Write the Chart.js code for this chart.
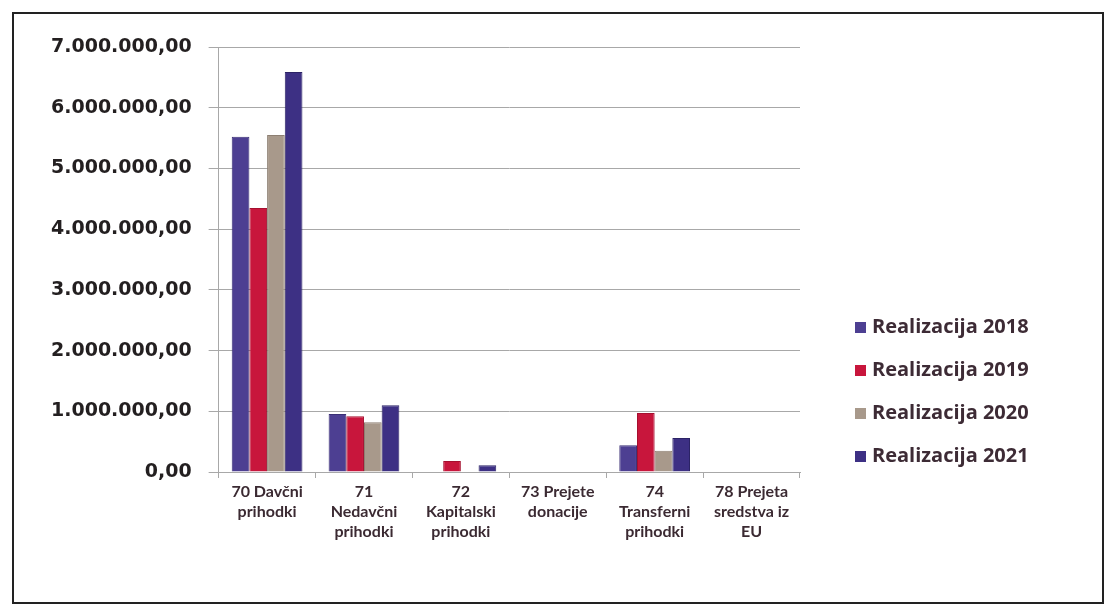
<!DOCTYPE html>
<html>
<head>
<meta charset="utf-8">
<script src="https://cdn.jsdelivr.net/npm/chart.js@4/dist/chart.umd.min.js"></script>
<style>
  html, body { margin: 0; padding: 0; background: #fff; }
  #wrap { position: relative; width: 1110px; height: 609px; }
  #frame { position: absolute; left: 12px; top: 12px; width: 1092px; height: 592px;
           border: 2px solid #222; box-sizing: border-box; pointer-events: none; }
  #legend { position: absolute; left: 855px; top: 313px; font-family: "Open Sans", sans-serif;
            font-weight: 700; font-size: 20px; color: #3d2b35; }
  #legend div { height: 43px; line-height: 26px; white-space: nowrap; }
  #legend span { display: inline-block; width: 11px; height: 11px; margin-right: 6px;
                 vertical-align: 0px; }
</style>
</head>
<body>
<div id="wrap">
  <canvas id="myChart" width="1110" height="609"></canvas>
  <div id="frame"></div>
  <div id="legend"></div>
</div>
<script>
const categories = [
  ["70 Davčni", "prihodki"],
  ["71", "Nedavčni", "prihodki"],
  ["72", "Kapitalski", "prihodki"],
  ["73 Prejete", "donacije"],
  ["74", "Transferni", "prihodki"],
  ["78 Prejeta", "sredstva iz", "EU"]
];
const seriesNames = ["Realizacija 2018", "Realizacija 2019", "Realizacija 2020", "Realizacija 2021"];
const real2018 = [5520000, 955000, 0, 0, 440000, 0];
const real2019 = [4350000, 920000, 180000, 0, 970000, 0];
const real2020 = [5550000, 820000, 0, 0, 350000, 0];
const real2021 = [6590000, 1100000, 110000, 0, 560000, 0];
const yTicks = [0, 1000000, 2000000, 3000000, 4000000, 5000000, 6000000, 7000000];

const colors = ["#4d3f92", "#c8163c", "#a8998b", "#3d3084"];
const borders = ["#3a2f75", "#a5102f", "#8d7f72", "#2c2366"];

function fmt(v) {
  const s = Math.round(v).toString().replace(/\B(?=(\d{3})+(?!\d))/g, ".");
  return s + ",00";
}

const values = [real2018, real2019, real2020, real2021];

const ctx = document.getElementById("myChart").getContext("2d");
const myChart = new Chart(ctx, {
  type: "bar",
  data: {
    labels: categories,
    datasets: seriesNames.map((name, i) => ({
      label: name,
      data: values[i],
      backgroundColor: colors[i],
      borderColor: borders[i],
      borderWidth: 1,
      barPercentage: 1,
      categoryPercentage: 0.73,
    })),
  },
  options: {
    responsive: false,
    animation: false,
    layout: { padding: { left: 34, right: 310, top: 47, bottom: 63 } },
    plugins: { legend: { display: false }, tooltip: { enabled: false } },
    scales: {
      y: {
        min: 0,
        max: 7000000,
        afterBuildTicks: (axis) => { axis.ticks = yTicks.map((v) => ({ value: v })); },
        ticks: {
          callback: (v) => fmt(v),
          font: { family: "DejaVu Sans", weight: "bold", size: 19 },
          color: "#231f20",
          padding: 17,
        },
        grid: { color: "#a8a8a8", tickLength: 10, lineWidth: 1 },
        border: { color: "#a8a8a8" },
      },
      x: {
        ticks: {
          font: { family: "Lato", weight: "bold", size: 16, lineHeight: 1.25 },
          color: "#3b2a32",
          maxRotation: 0,
          autoSkip: false,
          padding: 4,
        },
        grid: { drawOnChartArea: false, tickLength: 6, color: "#a8a8a8" },
        border: { color: "#a8a8a8" },
      },
    },
  },
});

const legend = document.getElementById("legend");
seriesNames.forEach((name, i) => {
  const row = document.createElement("div");
  const box = document.createElement("span");
  box.style.background = colors[i];
  row.appendChild(box);
  row.appendChild(document.createTextNode(name));
  legend.appendChild(row);
});
</script>
</body>
</html>
